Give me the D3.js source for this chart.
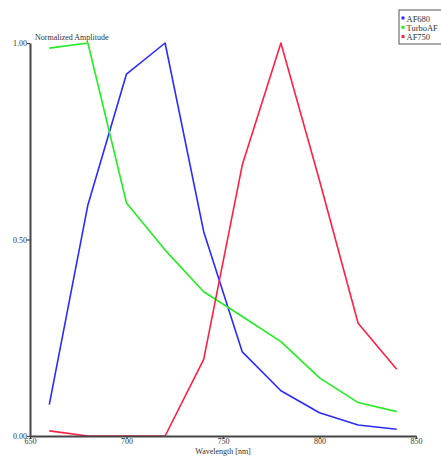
<!DOCTYPE html>
<html>
<head>
<meta charset="utf-8">
<script src="https://cdn.jsdelivr.net/npm/d3@7"></script>
<style>
  html, body { margin: 0; padding: 0; background: #fff; }
  svg { display: block; font-family: "Liberation Serif", "DejaVu Serif", serif; }
</style>
</head>
<body>
<svg id="chart" width="441" height="458"></svg>
<script>
// Emission spectra, normalized amplitude per wavelength (nm)
const wavelengths = [660, 680, 700, 720, 740, 760, 780, 800, 820, 840];
const af680   = [0.08, 0.588, 0.921, 1.0, 0.52, 0.214, 0.115, 0.059, 0.028, 0.017];
const turboAF = [0.987, 1.0, 0.593, 0.473, 0.367, 0.304, 0.24, 0.148, 0.085, 0.062];
const af750   = [0.013, 0.0, 0.0, 0.0, 0.195, 0.69, 1.0, 0.65, 0.287, 0.17];
const seriesNames = ["AF680", "TurboAF", "AF750"];
const seriesColors = ["#2b2bff", "#22ee22", "#ff1f44"];
const xTicks = [650, 700, 750, 800, 850];
const yTicks = [0, 0.5, 1.0];

const series = [af680, turboAF, af750];

const svg = d3.select("#chart");
const x = d3.scaleLinear().domain([650, 850]).range([30, 416]);
const y = d3.scaleLinear().domain([0, 1]).range([436, 43]);

// Curves
const line = d3.line().x(d => x(d[0])).y(d => y(d[1]));
series.forEach((vals, i) => {
  svg.append("path")
    .datum(wavelengths.map((w, j) => [w, vals[j]]))
    .attr("fill", "none")
    .attr("stroke", seriesColors[i])
    .attr("stroke-width", 1.6)
    .attr("stroke-linejoin", "round")
    .attr("d", line);
});

// Axes
const xAxis = svg.append("g").attr("transform", "translate(0,436)")
  .call(d3.axisBottom(x).tickValues(xTicks).tickFormat(d3.format("d")).tickSize(3).tickSizeOuter(0));
const yAxis = svg.append("g").attr("transform", "translate(30,0)")
  .call(d3.axisLeft(y).tickValues(yTicks).tickFormat(d3.format(".2f")).tickSize(3).tickSizeOuter(0));

[xAxis, yAxis].forEach(g => {
  g.select(".domain").attr("stroke", "#444").attr("stroke-width", 2);
  g.selectAll(".tick line").attr("stroke", "#444").attr("stroke-width", 1.2);
  g.selectAll("text").attr("fill", "#333").style("font-family", "Liberation Serif, serif").style("font-size", "8px");
});
xAxis.selectAll("text").attr("dy", "0.55em").attr("y", 4);
yAxis.selectAll("text").attr("x", -3);

// Axis titles
svg.append("text").attr("x", 35).attr("y", 40)
  .attr("fill", "#333").style("font-size", "8px").text("Normalized Amplitude");
svg.append("text").attr("x", 223).attr("y", 454).attr("text-anchor", "middle")
  .attr("fill", "#333").style("font-size", "8px").text("Wavelength [nm]");

// Legend
const legend = svg.append("g").attr("transform", "translate(399,10)");
legend.append("rect").attr("x", 0).attr("y", 0).attr("width", 48).attr("height", 34)
  .attr("fill", "#fff").attr("stroke", "#555").attr("stroke-width", 1);
seriesNames.forEach((name, i) => {
  const row = legend.append("g").attr("transform", `translate(2.5,${9 + i * 9.3})`);
  row.append("rect").attr("x", 0).attr("y", -2.5).attr("width", 3).attr("height", 3)
    .attr("fill", seriesColors[i]);
  row.append("text").attr("x", 5).attr("y", 2.5).attr("fill", "#333")
    .style("font-size", "8.5px").text(name);
});
</script>
</body>
</html>
